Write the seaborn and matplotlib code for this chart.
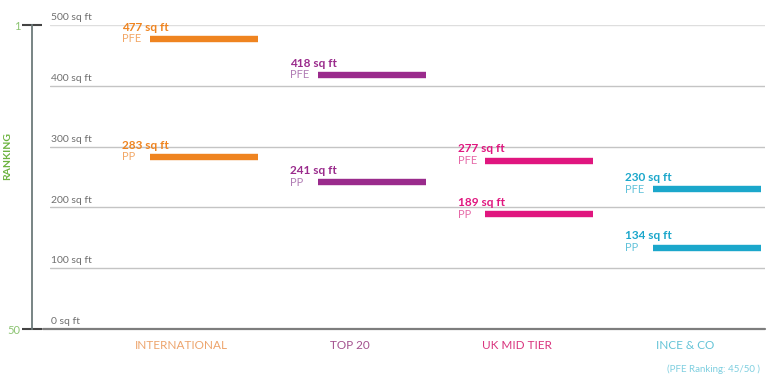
import matplotlib
matplotlib.use("Agg")
import matplotlib.pyplot as plt
import seaborn as sns
import pandas as pd

categories = ["INTERNATIONAL", "TOP 20", "UK MID TIER", "INCE & CO"]
pfe_values = [477, 418, 277, 230]
pp_values = [283, 241, 189, 134]
y_ticks = [0, 100, 200, 300, 400, 500]
y_tick_labels = [f"{v} sq ft" for v in y_ticks]
rank_ticks = ["50", "1"]

colors = ["#ef8420", "#9a2b8c", "#e0167f", "#1ba7cb"]
light_colors = ["#f2a766", "#b07cb4", "#e66aa8", "#62c2da"]
cat_colors = ["#eda46c", "#a3518e", "#d9357f", "#62c3d6"]

df = pd.DataFrame({
    "cat": categories * 2,
    "idx": list(range(4)) * 2,
    "kind": ["PFE"] * 4 + ["PP"] * 4,
    "value": pfe_values + pp_values,
})

sns.set_style("white")
plt.rcParams["font.family"] = ["Lato", "DejaVu Sans"]

fig = plt.figure(figsize=(7.81, 3.77), dpi=100)
ax = fig.add_axes([50 / 781, (377 - 329) / 377, (765 - 50) / 781, (329 - 25) / 377])
ax.set_xlim(-0.596, 3.668)
ax.set_ylim(0, 500)

# gridlines
for v, lab in zip(y_ticks, y_tick_labels):
    if v == 0:
        ax.axhline(v, color="#7d7d7d", lw=1.6, zorder=1, xmin=-0.01, clip_on=False)
    else:
        ax.axhline(v, color="#c4c4c4" if v != 500 else "#dedede", lw=1.0, zorder=1)
    ax.annotate(lab, xy=(0, v), xycoords=("axes fraction", "data"), xytext=(1, 2),
                textcoords="offset points", ha="left", va="bottom",
                fontsize=7.5, color="#6f6f6f")

bar_w = 0.645
for _, r in df.iterrows():
    i = r["idx"]
    ax.hlines(r["value"], i, i + bar_w, color=colors[i], lw=4.6, zorder=3)
    ax.annotate(r["kind"], xy=(i - 0.165, r["value"]), xytext=(0, 0),
                textcoords="offset points", ha="left", va="center",
                fontsize=8, color=light_colors[i], zorder=4)
    ax.annotate(f"{r['value']} sq ft", xy=(i - 0.165, r["value"]), xytext=(0, 4.5),
                textcoords="offset points", ha="left", va="bottom",
                fontsize=8.5, fontweight="bold", color=colors[i], zorder=4)

# category labels
ax.set_xticks([i + 0.19 for i in range(4)])
ax.set_xticklabels(categories, fontsize=8.5)
for t, c in zip(ax.get_xticklabels(), cat_colors):
    t.set_color(c)
ax.tick_params(axis="x", length=0, pad=8)
ax.text(3.36, -0.115, "(PFE Ranking: 45/50 )", transform=ax.get_xaxis_transform(),
        ha="center", va="top", fontsize=7, color="#7fcfe0")

# ranking axis
for s in ["top", "right", "bottom"]:
    ax.spines[s].set_visible(False)
ax.spines["left"].set_position(("outward", 13))
ax.spines["left"].set_color("#6d7b7b")
ax.spines["left"].set_linewidth(1.3)
ax.set_yticks([0, 500])
ax.set_yticklabels(rank_ticks, fontsize=8, color="#8cc472")
ax.tick_params(axis="y", left=True, direction="inout", length=14, width=1.5,
               color="#444444", pad=1)
ax.set_ylabel("RANKING", fontsize=7.5, fontweight="bold", color="#6cb33f", labelpad=0)
ax.yaxis.set_label_coords(-0.053, 0.57)

fig.savefig("out.png", dpi=100)
